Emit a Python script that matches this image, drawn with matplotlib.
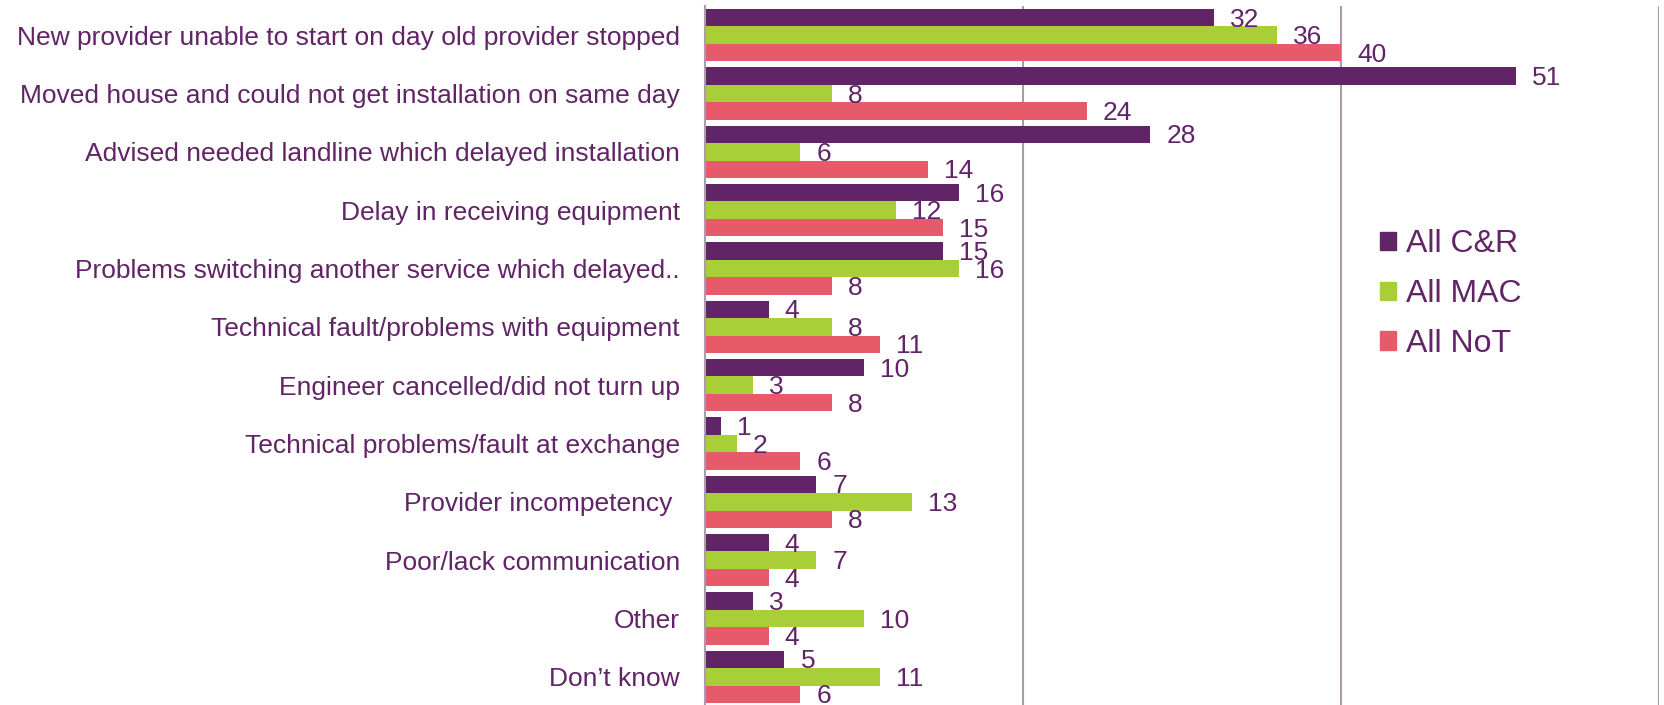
import matplotlib.pyplot as plt
import numpy as np
from matplotlib.patches import Patch

# 数据
categories = [
    "New provider unable to start on day old provider stopped",
    "Moved house and could not get installation on same day",
    "Advised needed landline which delayed installation",
    "Delay in receiving equipment",
    "Problems switching another service which delayed..",
    "Technical fault/problems with equipment",
    "Engineer cancelled/did not turn up",
    "Technical problems/fault at exchange",
    "Provider incompetency ",
    "Poor/lack communication",
    "Other",
    "Don\u2019t know",
]
cr_values = [32, 51, 28, 16, 15, 4, 10, 1, 7, 4, 3, 5]
mac_values = [36, 8, 6, 12, 16, 8, 3, 2, 13, 7, 10, 11]
not_values = [40, 24, 14, 15, 8, 11, 8, 6, 8, 4, 4, 6]
series_names = ["All C&R", "All MAC", "All NoT"]

purple = "#612466"
green = "#a9cf38"
red = "#e75a69"
grid_col = "#ab9cab"

plt.rcParams['font.family'] = ['Liberation Sans', 'DejaVu Sans']

fig = plt.figure(figsize=(16.65, 7.05), dpi=100)
ax = fig.add_axes([705 / 1665, -1 / 705, (1659 - 705) / 1665, 700 / 705])

y = np.arange(len(categories))
h = 0.3
series = [cr_values, mac_values, not_values]
colors = [purple, green, red]
for i, (vals, col, name) in enumerate(zip(series, colors, series_names)):
    pos = y + (i - 1) * h
    ax.barh(pos, vals, height=h, color=col, label=name, zorder=3)
    for p, v in zip(pos, vals):
        ax.annotate(str(v), xy=(v, p), xytext=(11.5, -1.5), textcoords="offset points",
                    ha="left", va="center", fontsize=19, color=purple, zorder=4)

ax.set_xlim(0, 60)
ax.set_ylim(len(categories) - 0.5, -0.5)
ax.set_yticks(y)
ax.set_yticklabels(categories, fontsize=19, color=purple)
ax.tick_params(axis='y', length=0, pad=18)
ax.set_xticks([20, 40, 60])
ax.tick_params(axis='x', length=0, labelbottom=False)
ax.grid(axis='x', color=grid_col, linewidth=1.5, zorder=0)
for s in ['top', 'right', 'bottom']:
    ax.spines[s].set_visible(False)
ax.spines['left'].set_color(grid_col)
ax.spines['left'].set_linewidth(1.5)
ax.spines['left'].set_zorder(5)

handles = [Patch(color=c) for c in colors]
fig.legend(handles, series_names, loc='center left',
           bbox_to_anchor=(1380 / 1665, 1 - 294 / 705), frameon=False,
           fontsize=23, labelcolor=purple, handlelength=0.5, handleheight=0.5,
           handletextpad=0.3, labelspacing=0.62, borderpad=0, borderaxespad=0)

fig.savefig("out.png", dpi=100)
